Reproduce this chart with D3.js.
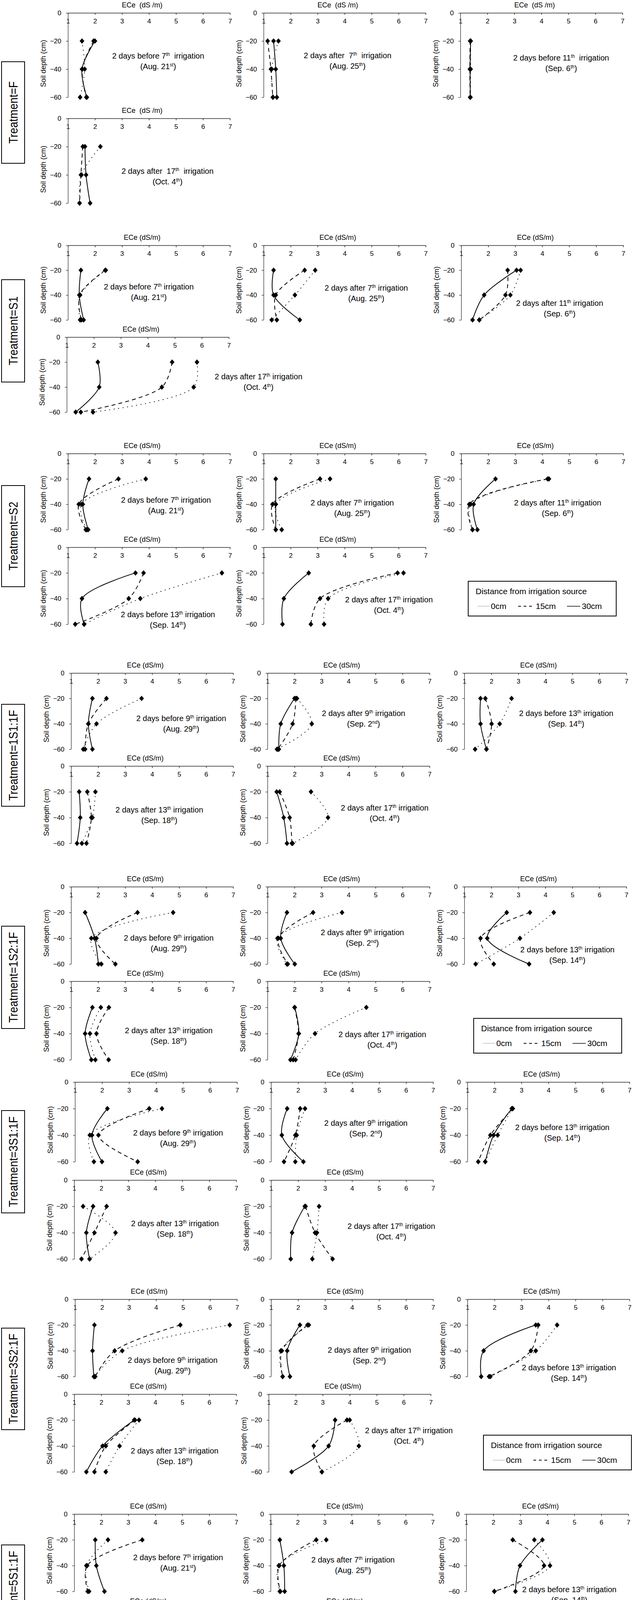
<!DOCTYPE html>
<html>
<head>
<meta charset="utf-8">
<script src="https://cdn.jsdelivr.net/npm/d3@7"></script>
<style>
  body { margin: 0; background: #fff; }
  svg text { fill: #000; }
</style>
</head>
<body>
<div id="chart"></div>
<script>
// Soil depths (cm) and distances from the irrigation source
const depths = [-20, -40, -60];
const distances = ["0cm", "15cm", "30cm"];
const xTicks = [1, 2, 3, 4, 5, 6, 7];
const yTicks = [0, -20, -40, -60];

const treatments = ["F", "S1", "S2", "1S1:1F", "1S2:1F", "3S1:1F", "3S2:1F", "5S1:1F", "5S1:1F"];

// ECe (dS/m) per panel: [0cm, 15cm, 30cm], each at -20, -40, -60 cm
const eceF = [
  [[1.52, 1.62, 1.45], [1.95, 1.53, 1.68], [2.00, 1.52, 1.70]],
  [[1.55, 1.30, 1.35], [1.15, 1.27, 1.34], [1.37, 1.45, 1.49]],
  [[1.38, 1.38, 1.37], [1.36, 1.35, 1.36], [1.38, 1.36, 1.37]],
  [[2.20, 1.50, 1.43], [1.55, 1.48, 1.43], [1.63, 1.67, 1.82]]
];
const eceS1 = [
  [[2.40, 1.45, 1.45], [2.38, 1.43, 1.50], [1.48, 1.42, 1.58]],
  [[2.91, 2.16, 1.30], [2.52, 1.45, 1.49], [1.37, 1.37, 2.34]],
  [[3.20, 2.82, 1.67], [2.72, 2.64, 1.67], [3.05, 1.85, 1.42]],
  [[5.82, 5.70, 1.97], [4.90, 4.52, 1.52], [2.15, 2.20, 1.33]]
];
const eceS2 = [
  [[3.88, 1.50, 1.70], [2.87, 1.40, 1.66], [1.78, 1.55, 1.75]],
  [[3.46, 1.45, 1.67], [3.09, 1.33, 1.45], [1.45, 1.45, 1.45]],
  [[4.25, 1.35, 1.42], [4.20, 1.30, 1.42], [2.27, 1.46, 1.60]],
  [[6.70, 3.68, 1.60], [3.80, 3.25, 1.27], [3.50, 1.52, 1.60]],
  [[6.18, 3.39, 3.24], [5.96, 3.09, 2.75], [2.67, 1.75, 1.70]]
];
const ece1S1 = [
  [[3.61, 1.94, 1.45], [2.31, 1.64, 1.52], [1.79, 1.64, 1.79]],
  [[2.09, 2.64, 1.35], [2.05, 1.93, 1.38], [2.00, 1.49, 1.42]],
  [[2.75, 2.31, 1.40], [1.78, 2.01, 1.82], [1.60, 1.60, 1.82]],
  [[1.90, 1.79, 1.40], [1.60, 1.75, 1.57], [1.30, 1.34, 1.22]],
  [[2.61, 3.24, 1.93], [1.45, 1.82, 1.90], [1.34, 1.60, 1.72]]
];
const ece1S2 = [
  [[4.78, 1.75, 2.12], [3.46, 1.94, 2.64], [1.52, 1.87, 2.01]],
  [[3.76, 1.37, 1.72], [2.69, 1.40, 1.75], [1.72, 1.49, 2.01]],
  [[4.31, 3.06, 1.42], [3.43, 1.60, 2.09], [2.57, 1.85, 3.40]],
  [[2.10, 1.70, 1.90], [2.40, 1.94, 2.39], [1.79, 1.52, 1.75]],
  [[4.66, 2.76, 2.04], [2.00, 2.15, 1.95], [2.01, 2.16, 1.85]]
];
const ece3S1 = [
  [[4.22, 1.55, 1.70], [3.75, 1.87, 3.32], [2.20, 1.63, 2.00]],
  [[2.26, 1.95, 1.90], [2.08, 1.90, 1.48], [1.60, 1.40, 2.20]],
  [[2.66, 2.12, 1.66], [2.68, 1.85, 1.40], [2.64, 1.97, 1.66]],
  [[1.33, 2.53, 1.57], [2.20, 1.75, 1.27], [1.70, 1.45, 1.57]],
  [[2.78, 2.70, 2.53], [2.28, 2.63, 3.28], [2.25, 1.78, 1.73]]
];
const ece3S2 = [
  [[6.73, 2.75, 1.72], [4.90, 2.47, 1.75], [1.72, 1.65, 1.70]],
  [[2.40, 1.36, 1.43], [2.35, 1.40, 1.43], [2.07, 1.60, 1.70]],
  [[4.32, 3.53, 1.85], [3.62, 3.35, 1.80], [3.53, 1.60, 1.51]],
  [[3.40, 2.68, 2.17], [3.25, 2.17, 1.75], [3.22, 2.05, 1.45]],
  [[4.00, 4.34, 2.97], [3.90, 2.67, 2.97], [3.46, 3.22, 1.85]]
];
const ece5S1a = [
  [[2.25, 1.45, 1.55], [3.52, 1.48, 1.50], [1.78, 1.82, 2.12]],
  [[3.06, 1.30, 1.34], [2.69, 1.32, 1.36], [1.34, 1.49, 1.52]],
  [[3.52, 4.10, 2.04], [2.72, 3.88, 2.04], [3.82, 2.99, 2.82]],
  [[4.00, 2.15, 1.33], [3.43, 2.10, 1.37], [2.08, 1.40, 1.66]],
  [[2.66, 3.31, 3.14], [2.62, 2.46, 3.55], [2.39, 3.21, 2.72]]
];
const ece5S1b = [
  [[3.98, 1.75, 1.45], [2.20, 1.40, 1.43], [1.96, 2.57, 1.45]],
  [[3.20, 1.37, 1.48], [2.27, 1.38, 1.64], [1.48, 1.49, 1.94]],
  [[3.64, 3.64, 1.50], [4.25, 4.59, 1.55], [4.14, 3.76, 1.37]],
  [[4.85, 3.62, 1.58], [3.50, 3.42, 1.58], [2.26, 2.75, 1.58]],
  [[6.70, 5.79, 2.14], [5.41, 3.56, 1.45], [2.51, 4.11, 1.34]]
];
const eceAll = [eceF, eceS1, eceS2, ece1S1, ece1S2, ece3S1, ece3S2, ece5S1a, ece5S1b];

// Panel captions (^ marks a superscript)
const capF = [
  ["2 days before 7^th  irrigation", "(Aug. 21^st)"],
  ["2 days after  7^th  irrigation", "(Aug. 25^th)"],
  ["2 days before 11^th  irrigation", "(Sep. 6^th)"],
  ["2 days after  17^th  irrigation", "(Oct. 4^th)"]
];
const capS = [
  ["2 days before 7^th irrigation", "(Aug. 21^st)"],
  ["2 days after 7^th irrigation", "(Aug. 25^th)"],
  ["2 days after 11^th irrigation", "(Sep. 6^th)"],
  ["2 days after 17^th irrigation", "(Oct. 4^th)"]
];
const capS2 = [
  ["2 days before 7^th irrigation", "(Aug. 21^st)"],
  ["2 days after 7^th irrigation", "(Aug. 25^th)"],
  ["2 days after 11^th irrigation", "(Sep. 6^th)"],
  ["2 days before 13^th irrigation", "(Sep. 14^th)"],
  ["2 days after 17^th irrigation", "(Oct. 4^th)"]
];
const capMix9 = [
  ["2 days before 9^th irrigation", "(Aug. 29^th)"],
  ["2 days after 9^th irrigation", "(Sep. 2^nd)"],
  ["2 days before 13^th irrigation", "(Sep. 14^th)"],
  ["2 days after 13^th irrigation", "(Sep. 18^th)"],
  ["2 days after 17^th irrigation", "(Oct. 4^th)"]
];
const capMix7 = [
  ["2 days before 7^th irrigation", "(Aug. 21^st)"],
  ["2 days after 7^th irrigation", "(Aug. 25^th)"],
  ["2 days before 13^th irrigation", "(Sep. 14^th)"],
  ["2 days after 13^th irrigation", "(Sep. 18^th)"],
  ["2 days after 17^th irrigation", "(Oct. 4^th)"]
];
const capAll = [capF, capS, capS2, capMix9, capMix9, capMix9, capMix9, capMix7, capMix7];

// Page layout (pixel positions of each treatment block)
const layout = [
  {label: [158, 418], title: "ECe  (dS /m)", rows: [[33, 249, [174, 675, 1179]], [303, 520, [174]]],
   caps: [[405, 143], [890, 142], [1437, 148], [429, 438]]},
  {label: [716, 978], title: "ECe (dS/m)", rows: [[628, 819, [174, 675, 1181]], [863, 1055, [171]]],
   caps: [[381, 734], [938, 737], [1433, 776], [662, 964]]},
  {label: [1243, 1502], title: "ECe (dS/m)", rows: [[1161, 1356, [174, 675, 1181]], [1401, 1598, [174, 675]]],
   caps: [[425, 1280], [902, 1287], [1428, 1287], [430, 1573], [996, 1535]], legend: [1199, 1488]},
  {label: [1803, 2064], title: "ECe (dS/m)", rows: [[1723, 1918, [182, 685, 1189]], [1961, 2159, [182, 685]]],
   caps: [[464, 1839], [931, 1826], [1450, 1826], [408, 2073], [985, 2068]]},
  {label: [2371, 2633], title: "ECe (dS/m)", rows: [[2270, 2468, [182, 685, 1189]], [2512, 2713, [182, 685]]],
   caps: [[432, 2401], [928, 2387], [1453, 2431], [432, 2638], [979, 2648]], legend: [1213, 2607]},
  {label: [2843, 3105], title: "ECe (dS/m)", rows: [[2770, 2974, [192, 694, 1197]], [3021, 3223, [190, 694]]],
   caps: [[456, 2900], [937, 2875], [1440, 2886], [448, 3132], [1002, 3139]]},
  {label: [3400, 3660], title: "ECe (dS/m)", rows: [[3326, 3524, [192, 694, 1197]], [3569, 3768, [190, 688]]],
   caps: [[442, 3482], [946, 3456], [1457, 3501], [447, 3714], [1047, 3662]], legend: [1238, 3674]},
  {label: [3955, 4217], title: "ECe (dS/m)", rows: [[3876, 4074, [190, 693, 1194]], [4119, 4323, [190, 693]]],
   caps: [[456, 3987], [904, 3993], [1458, 4069], [470, 4262], [1009, 4243]]},
  {label: [4478, 4739], title: "ECe (dS/m)", rows: [[4397, 4597, [190, 691, 1194]], [4640, 4843, [190, 693]]],
   caps: [[448, 4521], [932, 4515], [1456, 4594], [464, 4813], [1066, 4817]], legend: [1220, 4740]}
];

const W = 1621, H = 4858;
const panelW = 415;
const FONT = "'Liberation Sans',Arial,sans-serif";
const styles = {
  "0cm": {dash: "1.6,10", width: 1.6, cap: "round"},
  "15cm": {dash: "10,8", width: 2, cap: "butt"},
  "30cm": {dash: null, width: 2, cap: "butt"}
};

const svg = d3.select("#chart").append("svg")
  .attr("width", W).attr("height", H)
  .style("font-family", FONT);

function addText(parent, x, y, size, anchor, rot, sq) {
  return parent.append("text")
    .attr("transform", `translate(${x},${y})${rot ? " rotate(" + rot + ")" : ""}${sq ? " scale(" + sq + ",1)" : ""}`)
    .attr("text-anchor", anchor)
    .style("font-size", size + "px")
    .style("white-space", "pre");
}

// text with ^superscripts
function richText(sel, str) {
  const parts = str.split(/\^(\w+)/);
  let up = false;
  parts.forEach((p, i) => {
    if (i % 2 === 0) {
      if (!p) return;
      const t = sel.append("tspan").text(p);
      if (up) { t.attr("dy", 7); up = false; }
    } else {
      sel.append("tspan").attr("dy", -7).attr("font-size", "0.6em").text(p);
      up = true;
    }
  });
}

const diamond = "M0,-7L6,0L0,7L-6,0Z";

function drawPanel(x0, top, bottom, values, caption, capPos, title) {
  const x = d3.scaleLinear().domain([1, 7]).range([x0, x0 + panelW]);
  const y = d3.scaleLinear().domain([0, -60]).range([top, bottom]);
  const g = svg.append("g");

  addText(g, x0 + 190, top - 14, 18, "middle").text(title);

  // x axis (top line, labels below)
  const xa = g.append("g")
    .attr("transform", `translate(0,${top})`)
    .call(d3.axisBottom(x).tickValues(xTicks).tickFormat(d3.format("d"))
      .tickSize(5).tickPadding(10).tickSizeOuter(0));
  xa.selectAll("text").style("font-size", "17px").style("font-family", FONT);
  xa.selectAll("path,line").attr("stroke", "#222").attr("stroke-width", 1.4);

  // y axis
  const ya = g.append("g")
    .attr("transform", `translate(${x0},0)`)
    .call(d3.axisLeft(y).tickValues(yTicks).tickSize(5).tickPadding(12).tickSizeOuter(0));
  ya.selectAll("text").style("font-size", "17px").style("font-family", FONT);
  ya.selectAll("path,line").attr("stroke", "#222").attr("stroke-width", 1.2);

  addText(g, x0 - 57, y(-36), 18, "middle", -90).text("Soil depth (cm)");

  // profiles
  const line = d3.line()
    .x(d => x(d[0])).y(d => y(d[1]))
    .curve(d3.curveCatmullRom.alpha(0.5));

  distances.forEach((dist, k) => {
    const pts = values[k].map((v, j) => [v, depths[j]]);
    const st = styles[dist];
    g.append("path")
      .attr("d", line(pts))
      .attr("fill", "none")
      .attr("stroke", "#000")
      .attr("stroke-width", st.width)
      .attr("stroke-linecap", st.cap)
      .attr("stroke-dasharray", st.dash);
  });
  distances.forEach((dist, k) => {
    g.selectAll(null)
      .data(values[k].map((v, j) => [v, depths[j]]))
      .enter().append("path")
      .attr("d", diamond)
      .attr("transform", d => `translate(${x(d[0])},${y(d[1])})`)
      .attr("fill", "#000");
  });

  // caption
  richText(addText(g, capPos[0], capPos[1] + 7, 20, "middle"), caption[0]);
  richText(addText(g, capPos[0], capPos[1] + 34, 20, "middle"), caption[1]);
}

function drawLegend(lx, ly) {
  const g = svg.append("g").attr("transform", `translate(${lx},${ly})`);
  g.append("rect").attr("x", 0).attr("y", 0).attr("width", 379).attr("height", 89)
    .attr("fill", "#fff").attr("stroke", "#000").attr("stroke-width", 2);
  addText(g, 19, 33, 21, "start").text("Distance from irrigation source");
  const items = [[25, 58, "0cm"], [128, 173, "15cm"], [253, 291, "30cm"]];
  items.forEach(([a, b, lab]) => {
    g.append("line").attr("x1", a).attr("x2", b - 4).attr("y1", 64).attr("y2", 64)
      .attr("stroke", "#000")
      .attr("stroke-width", lab === "0cm" ? 1.2 : (lab === "15cm" ? 2 : 1.3))
      .attr("stroke-dasharray", lab === "0cm" ? "1.2,1.8" : (lab === "15cm" ? "7,7" : null));
    addText(g, b, 71, 21, "start").text(lab);
  });
}

treatments.forEach((t, i) => {
  const L = layout[i];
  // treatment label box
  svg.append("rect")
    .attr("x", 4).attr("y", L.label[0])
    .attr("width", 59).attr("height", L.label[1] - L.label[0])
    .attr("fill", "#fff").attr("stroke", "#000").attr("stroke-width", 2);
  addText(svg, 45, (L.label[0] + L.label[1]) / 2, 31, "middle", -90, 0.9).text("Treatment=" + t);

  let p = 0;
  L.rows.forEach(([top, bottom, xs]) => {
    xs.forEach(x0 => {
      drawPanel(x0, top, bottom, eceAll[i][p], capAll[i][p], L.caps[p], L.title);
      p++;
    });
  });
  if (L.legend) drawLegend(L.legend[0], L.legend[1]);
});
</script>
</body>
</html>
